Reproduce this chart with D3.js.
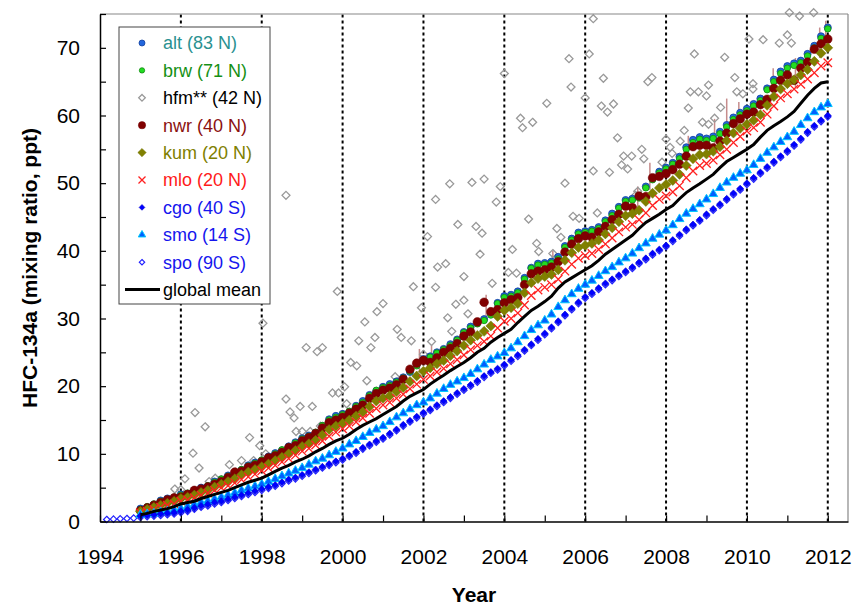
<!DOCTYPE html>
<html>
<head>
<meta charset="utf-8">
<script src="https://cdn.jsdelivr.net/npm/d3@7"></script>
<style>
  body { margin: 0; background: #fff; }
  text { font-family: Arial, "Liberation Sans", sans-serif; }
</style>
</head>
<body>
<svg id="chart" width="857" height="606"></svg>
<script>
// bimonthly values, first value at series start year, step 1/6 yr
const step = 1 / 6;

const altVals = [
  1.9, 2.1, 2.5, 3.1, 3.4, 3.5,  4.0, 4.1, 4.6, 5.0, 5.2, 5.9,  6.2, 6.8, 7.2, 7.6, 8.3, 8.7,
  9.0, 9.6, 10.1, 10.5, 11.1, 11.7,  12.3, 12.7, 13.1, 14.1, 15.1, 15.6,  15.9, 16.2, 17.1, 17.8, 18.7, 19.3,
  19.9, 20.3, 20.7, 21.3, 22.1, 23.2,  24.0, 24.4, 25.0, 25.5, 26.2, 26.9,  28.0, 28.8, 29.4, 29.9, 30.7, 32.3,
  33.3, 33.5, 34.0, 36.0, 37.5, 38.1,  38.2, 38.4, 39.1, 40.7, 41.8, 42.7,  42.9, 43.1, 43.5, 44.5, 45.5, 46.5,
  47.5, 47.7, 48.1, 49.5, 50.7, 51.7,  52.3, 53.0, 53.9, 55.3, 56.4, 56.8,  56.6, 56.9, 57.6, 58.6, 59.7, 60.4,
  61.0, 61.7, 62.5, 64.0, 65.3, 66.5,  67.3, 67.7, 68.1, 69.1, 70.3, 71.7,  73.0
];
const brwVals = [
  1.8, 2.2, 2.6, 3.0, 3.3, 3.6,  3.9, 4.2, 4.5, 4.9, 5.3, 5.8,  6.3, 6.7, 7.1, 7.7, 8.2, 8.6,
  9.1, 9.5, 10.0, 10.6, 11.0, 11.6,  12.2, 12.6, 13.2, 14.2, 15.0, 15.4,  15.8, 16.3, 17.0, 17.6, 18.6, 19.4,
  19.8, 20.1, 20.6, 21.2, 22.2, 23.0,  23.9, 24.3, 24.9, 25.4, 26.0, 26.8,  27.9, 28.6, 29.2, 29.7, 30.5, 32.2,
  33.1, 33.3, 33.8, 35.8, 37.4, 37.9,  38.0, 38.2, 38.8, 40.5, 41.6, 42.5,  42.7, 42.9, 43.3, 44.3, 45.2, 46.3,
  47.3, 47.5, 47.8, 49.3, 50.5, 51.5,  52.1, 52.8, 53.6, 55.0, 56.0, 56.5,  56.3, 56.6, 57.3, 58.3, 59.4, 60.1,
  60.7, 61.4, 62.2, 63.8, 65.0, 66.2,  67.0, 67.4, 67.8, 68.8, 70.0, 71.4,  72.8
];
const nwrVals = [
  1.6, 2.0, 2.4, 2.8, 3.2, 3.5,  3.6, 4.0, 4.6, 4.8, 5.1, 5.5,  5.9, 6.5, 7.3, 7.4, 8.0, 8.3,
  8.8, 9.4, 9.7, 10.2, 10.9, 11.2,  11.9, 12.4, 13.0, 13.8, 14.6, 15.0,  15.4, 16.0, 16.6, 17.2, 18.2, 18.9,
  19.4, 19.7, 20.2, 21.0, 22.5, 23.4,  23.8, 23.5, 24.2, 25.0, 25.6, 26.3,  27.4, 28.0, 29.5, 32.4, 31.0, 31.3,
  32.3, 32.8, 33.1, 35.0, 36.6, 37.0,  37.2, 37.6, 38.4, 39.8, 41.0, 41.8,  42.2, 42.0, 42.8, 43.6, 44.6, 45.4,
  46.6, 46.4, 48.1, 48.0, 50.8, 51.0,  51.4, 52.0, 52.8, 54.0, 55.4, 55.6,  55.6, 55.2, 56.2, 57.4, 58.8, 59.5,
  60.2, 60.5, 61.6, 62.4, 64.0, 65.2,  66.0, 65.2, 67.0, 67.9, 69.8, 70.6,  71.3
];
const kumVals = [
  1.5, 1.8, 2.1, 2.4, 2.7, 3.0,  3.4, 3.6, 3.9, 4.3, 4.6, 5.1,  5.5, 5.9, 6.3, 6.9, 7.3, 7.7,
  8.1, 8.5, 9.0, 9.5, 10.0, 10.5,  11.1, 11.5, 12.0, 12.8, 13.6, 14.1,  14.5, 15.0, 15.6, 16.2, 17.0, 17.8,
  18.2, 18.6, 19.2, 19.8, 20.7, 21.5,  22.2, 22.7, 23.3, 23.8, 24.5, 25.2,  26.0, 26.8, 27.5, 28.1, 28.9, 30.3,
  31.2, 31.6, 32.2, 33.8, 35.3, 35.9,  36.2, 36.5, 37.2, 38.6, 39.7, 40.5,  40.8, 41.1, 41.6, 42.5, 43.4, 44.3,
  45.2, 45.5, 46.0, 47.3, 48.5, 49.3,  49.8, 50.4, 51.3, 52.6, 53.6, 54.2,  54.3, 54.7, 55.4, 56.3, 57.4, 58.1,
  58.7, 59.3, 60.1, 61.5, 62.8, 63.9,  64.7, 65.3, 66.0, 66.8, 68.0, 69.2,  70.0
];
const mloVals = [
  1.3, 1.5, 1.8, 2.1, 2.4, 2.6,  3.0, 3.2, 3.5, 3.9, 4.2, 4.6,  5.0, 5.3, 5.7, 6.2, 6.6, 7.0,
  7.5, 7.9, 8.3, 8.8, 9.3, 9.8,  10.4, 10.8, 11.3, 11.9, 12.6, 13.2,  13.7, 14.1, 14.7, 15.3, 16.0, 16.7,
  17.2, 17.6, 18.2, 18.8, 19.6, 20.3,  21.0, 21.5, 22.1, 22.6, 23.3, 23.9,  24.6, 25.4, 26.0, 26.6, 27.4, 28.6,
  29.6, 30.0, 30.8, 32.0, 33.4, 34.2,  34.6, 35.0, 35.8, 37.0, 38.0, 38.9,  39.3, 39.6, 40.2, 41.0, 41.9, 42.8,
  43.5, 43.9, 44.6, 45.6, 46.7, 47.6,  48.1, 48.7, 49.6, 50.8, 51.8, 52.6,  52.9, 53.4, 54.2, 55.0, 56.0, 56.9,
  57.7, 58.2, 59.0, 60.2, 61.4, 62.6,  63.2, 63.9, 64.6, 65.4, 66.3, 67.3,  67.8
];
const cgoVals = [
  0.8, 0.9, 1.0, 1.1, 1.2, 1.3,  1.5, 1.7, 2.0, 2.3, 2.5, 2.8,  3.0, 3.3, 3.6, 3.9, 4.2, 4.5,
  4.8, 5.1, 5.4, 5.8, 6.2, 6.5,  6.9, 7.3, 7.7, 8.1, 8.5, 8.9,  9.3, 9.8, 10.3, 10.9, 11.4, 11.9,
  12.4, 13.0, 13.6, 14.3, 14.9, 15.5,  16.1, 16.6, 17.2, 17.8, 18.4, 19.0,  19.6, 20.2, 20.8, 21.5, 22.1, 22.6,
  23.2, 23.9, 24.6, 25.4, 26.2, 27.0,  27.8, 28.7, 29.6, 30.6, 31.5, 32.4,  33.2, 33.8, 34.5, 35.2, 35.8, 36.4,
  37.0, 37.6, 38.3, 38.9, 39.6, 40.2,  40.8, 41.6, 42.4, 43.2, 43.9, 44.6,  45.4, 46.2, 46.9, 47.7, 48.5, 49.2,
  50.0, 50.8, 51.6, 52.4, 53.2, 54.0,  54.8, 55.7, 56.6, 57.6, 58.5, 59.3,  60.0
];
const smoVals = [
  1.0, 1.1, 1.2, 1.4, 1.5, 1.7,  1.9, 2.2, 2.5, 2.8, 3.0, 3.3,  3.6, 3.9, 4.2, 4.6, 4.9, 5.2,
  5.5, 5.9, 6.3, 6.7, 7.1, 7.5,  7.9, 8.4, 8.9, 9.3, 9.8, 10.3,  10.8, 11.4, 11.9, 12.5, 13.1, 13.6,
  14.1, 14.7, 15.4, 16.0, 16.6, 17.2,  17.6, 18.2, 18.9, 19.6, 20.2, 20.7,  21.2, 21.8, 22.5, 23.2, 23.9, 24.4,
  24.9, 25.6, 26.5, 27.4, 28.3, 29.0,  29.7, 30.6, 31.7, 32.7, 33.6, 34.4,  35.0, 35.6, 36.3, 37.0, 37.6, 38.3,
  38.9, 39.6, 40.4, 41.1, 41.8, 42.4,  43.0, 43.8, 44.7, 45.5, 46.2, 46.9,  47.6, 48.4, 49.3, 50.1, 50.8, 51.4,
  51.9, 52.7, 53.6, 54.5, 55.3, 56.1,  56.8, 57.6, 58.6, 59.6, 60.5, 61.2,  61.7
];
// spo starts early in 1994
const spoVals = [
  0.3, 0.35, 0.4, 0.45, 0.5,
  0.6, 0.7, 0.8, 0.9, 1.0, 1.1,  1.3, 1.5, 1.8, 2.1, 2.3, 2.6,  2.8, 3.1, 3.4, 3.7, 4.0, 4.3,
  4.6, 4.9, 5.2, 5.6, 6.0, 6.3,  6.7, 7.1, 7.5, 7.9, 8.3, 8.7,  9.1, 9.6, 10.1, 10.7, 11.2, 11.7,
  12.2, 12.8, 13.4, 14.1, 14.7, 15.3,  15.9, 16.4, 17.0, 17.6, 18.2, 18.8,  19.4, 20.0, 20.6, 21.3, 21.9, 22.4,
  23.0, 23.7, 24.4, 25.2, 26.0, 26.8,  27.6, 28.5, 29.4, 30.4, 31.3, 32.2,  33.0, 33.6, 34.3, 35.0, 35.6, 36.2,
  36.8, 37.4, 38.1, 38.7, 39.4, 40.0,  40.6, 41.4, 42.2, 43.0, 43.7, 44.4,  45.2, 46.0, 46.7, 47.5, 48.3, 49.0,
  49.8, 50.6, 51.4, 52.2, 53.0, 53.8,  54.6, 55.5, 56.4, 57.4, 58.3, 59.1,  59.8
];
const globalVals = [
  1.0, 1.2, 1.5, 1.7, 1.9, 2.2,  2.6, 2.8, 3.0, 3.4, 3.7, 4.0,  4.3, 4.6, 5.0, 5.4, 5.8, 6.1,
  6.4, 6.9, 7.4, 7.9, 8.3, 8.8,  9.2, 9.7, 10.3, 10.8, 11.4, 11.9,  12.3, 12.9, 13.6, 14.2, 14.7, 15.2,
  15.8, 16.4, 17.0, 17.8, 18.5, 19.0,  19.5, 20.3, 21.0, 21.6, 22.3, 22.9,  23.5, 24.2, 25.0, 25.6, 26.5, 27.2,
  27.8, 28.4, 29.4, 30.3, 31.2, 31.8,  32.5, 33.3, 34.5, 35.4, 36.0, 36.6,  37.2, 37.8, 38.6, 39.5, 40.2, 40.9,
  41.6, 42.3, 43.3, 44.2, 44.8, 45.4,  46.1, 46.7, 47.7, 48.6, 49.3, 49.9,  50.6, 51.3, 52.3, 53.2, 53.8, 54.4,
  55.0, 55.7, 56.8, 57.8, 58.5, 59.1,  59.8, 60.6, 61.8, 63.0, 64.0, 64.8,  65.0
];

// hfm** flask samples, scattered
const hfmYear = [
  1995.85, 1996.0, 1996.1, 1996.3, 1996.35, 1996.45, 1996.6, 1996.7, 1996.85, 1997.2, 1997.35, 1997.5,
  1997.7, 1997.8, 1997.95, 1998.03, 1998.1, 1998.6, 1998.6, 1998.7, 1998.8, 1998.85, 1998.95, 1999.0,
  1999.1, 1999.2, 1999.25, 1999.37, 1999.45, 1999.5, 1999.75, 1999.87, 1999.9, 2000.05, 2000.1, 2000.2,
  2000.35, 2000.4, 2000.55, 2000.6, 2000.7, 2000.8, 2000.85, 2001.0, 2001.3, 2001.35, 2001.45, 2001.7,
  2001.75, 2001.95, 2002.0, 2002.1, 2002.2, 2002.3, 2002.3, 2002.35, 2002.55, 2002.6, 2002.65, 2002.7,
  2002.8, 2002.85, 2003.0, 2003.0, 2003.1, 2003.2, 2003.3, 2003.4, 2003.45, 2003.5, 2003.7, 2003.8,
  2003.9, 2004.0, 2004.1, 2004.2, 2004.3, 2004.4, 2004.45, 2004.6, 2004.7, 2004.8, 2004.85, 2005.05,
  2005.2, 2005.3, 2005.4, 2005.5, 2005.6, 2005.65, 2005.7, 2005.85, 2006.0, 2006.1, 2006.2, 2006.2,
  2006.3, 2006.4, 2006.45, 2006.55, 2006.6, 2006.7, 2006.8, 2006.9, 2006.95, 2007.05, 2007.15, 2007.25,
  2007.3, 2007.4, 2007.45, 2007.55, 2007.65, 2007.9, 2008.0, 2008.1, 2008.15, 2008.35, 2008.45, 2008.55,
  2008.6, 2008.7, 2008.8, 2008.9, 2009.0, 2009.05, 2009.05, 2009.2, 2009.35, 2009.45, 2009.7, 2009.75,
  2009.9, 2010.05, 2010.15, 2010.15, 2010.4, 2010.8, 2011.0, 2011.05, 2011.1, 2011.3, 2011.65
];
const hfmValue = [
  4.8, 4.7, 6.3, 10.1, 16.1, 7.9, 14.0, 5.9, 6.4, 8.4, 7.3, 9.0,
  12.4, 9.0, 11.2, 29.3, 10.0, 48.2, 18.1, 16.2, 15.3, 13.3, 17.0, 13.3,
  25.7, 13.3, 17.0, 25.1, 14.1, 25.7, 19.0, 34.0, 19.0, 19.9, 17.4, 23.5,
  23.0, 26.7, 29.5, 20.8, 25.7, 27.2, 31.0, 32.2, 21.4, 28.4, 27.2, 26.7,
  34.7, 31.6, 24.7, 42.1, 26.6, 34.6, 47.6, 37.6, 38.1, 30.1, 49.9, 28.1,
  32.1, 43.9, 32.7, 36.2, 30.7, 50.1, 43.6, 39.5, 42.6, 50.6, 35.2, 47.2,
  49.5, 66.2, 36.8, 40.2, 36.7, 59.6, 58.2, 44.7, 59.0, 41.1, 39.9, 61.8,
  39.6, 43.3, 42.0, 50.0, 68.4, 64.2, 45.1, 44.8, 62.6, 69.1, 74.3, 51.8,
  45.6, 61.4, 65.5, 60.5, 51.6, 61.7, 56.7, 52.7, 54.0, 52.1, 54.0, 48.2,
  48.8, 55.0, 53.6, 65.0, 65.6, 53.1, 56.5, 55.3, 54.4, 56.2, 57.8, 61.1,
  63.5, 69.1, 63.5, 59.0, 62.9, 58.7, 64.5, 59.6, 61.2, 68.6, 65.6, 63.5,
  63.2, 71.3, 64.7, 63.9, 71.2, 70.7, 71.9, 75.2, 70.7, 74.7, 75.2
];

// nwr spread bars
const nwrBarYear = [2001.9, 2002.2, 2003.55, 2005.2, 2007.3, 2007.6, 2008.55, 2009.2, 2009.5, 2009.8, 2010.65, 2011.2, 2011.8, 2011.95];
const nwrBarLo   = [22.0, 23.8, 29.5, 36.5, 46.5, 49.0, 54.0, 55.5, 57.5, 58.5, 64.0, 64.0, 68.5, 70.0];
const nwrBarHi   = [25.5, 26.0, 33.5, 40.0, 49.5, 53.0, 57.0, 59.5, 62.5, 62.0, 67.0, 68.5, 73.0, 74.0];

const xTicks = d3.range(1994, 2013, 1);
const xLabels = d3.range(1994, 2013, 2);
const gridYears = d3.range(1996, 2013, 2);
const yTicks = d3.range(0, 76, 5);
const yLabels = d3.range(0, 71, 10);

const legendNames = ["alt (83 N)", "brw (71 N)", "hfm** (42 N)", "nwr (40 N)", "kum (20 N)", "mlo (20 N)",
                     "cgo (40 S)", "smo (14 S)", "spo (90 S)", "global mean"];

const svg = d3.select("#chart");
const plotLeft = 100, plotRight = 848, plotTop = 14, plotBottom = 521.5;
const x = d3.scaleLinear().domain([1994, 2012.5]).range([plotLeft, plotRight]);
const y = d3.scaleLinear().domain([0, 75]).range([plotBottom, plotTop]);

const toPoints = (vals, start) => vals.map((v, i) => ({ t: start + i * step, v }));

// station styles
const stations = [
  { name: "hfm", pts: hfmYear.map((t, i) => ({ t, v: hfmValue[i] })), sym: d3.symbolDiamond2, size: 40,
    fill: "none", stroke: "#999", sw: 1.3, text: "#000" },
  { name: "spo", pts: toPoints(spoVals, 1994 + step), sym: d3.symbolDiamond2, size: 26,
    fill: "none", stroke: "#2222ff", sw: 1.2, text: "#1515ee" },
  { name: "alt", pts: toPoints(altVals, 1995.0), sym: d3.symbolCircle, size: 40,
    fill: "#2266dd", stroke: "#1040a0", sw: 0.8, text: "#2a9191" },
  { name: "brw", pts: toPoints(brwVals, 1995.0), sym: d3.symbolCircle, size: 32,
    fill: "#22dd22", stroke: "#118811", sw: 0.8, text: "#159015" },
  { name: "nwr", pts: toPoints(nwrVals, 1995.0), sym: d3.symbolCircle, size: 60,
    fill: "#800000", stroke: "#700000", sw: 0.5, text: "#8b1010" },
  { name: "kum", pts: toPoints(kumVals, 1995.0), sym: d3.symbolDiamond2, size: 64,
    fill: "#808000", stroke: "#707000", sw: 0.5, text: "#808000" },
  { name: "mlo", pts: toPoints(mloVals, 1995.0), sym: d3.symbolX, size: 48,
    fill: "none", stroke: "#ff2020", sw: 1.3, text: "#ff1a1a" },
  { name: "smo", pts: toPoints(smoVals, 1995.0), sym: d3.symbolTriangle, size: 34,
    fill: "#0060ff", stroke: "#00c8ff", sw: 1, text: "#1515ee" },
  { name: "cgo", pts: toPoints(cgoVals, 1995.0), sym: d3.symbolDiamond2, size: 30,
    fill: "#0000ff", stroke: "#0000cc", sw: 0.6, text: "#1515ee" }
];

// dotted year lines
svg.append("g").selectAll("line")
  .data(gridYears)
  .join("line")
  .attr("x1", d => x(d)).attr("x2", d => x(d))
  .attr("y1", plotBottom).attr("y2", plotTop)
  .attr("stroke", "#000").attr("stroke-width", 2)
  .attr("stroke-dasharray", "3,3");

// nwr spread bars
svg.append("g").selectAll("line")
  .data(nwrBarYear)
  .join("line")
  .attr("x1", d => x(d)).attr("x2", d => x(d))
  .attr("y1", (d, i) => y(nwrBarLo[i])).attr("y2", (d, i) => y(nwrBarHi[i]))
  .attr("stroke", "#b87070").attr("stroke-width", 1.5).attr("opacity", 0.8);

stations.forEach(s => {
  svg.append("g").selectAll("path")
    .data(s.pts)
    .join("path")
    .attr("transform", d => `translate(${x(d.t)},${y(d.v)})`)
    .attr("d", d3.symbol(s.sym, s.size))
    .attr("fill", s.fill)
    .attr("stroke", s.stroke)
    .attr("stroke-width", s.sw);
});

// global mean line
svg.append("path")
  .datum(toPoints(globalVals, 1995.0))
  .attr("d", d3.line().x(d => x(d.t)).y(d => y(d.v)))
  .attr("fill", "none")
  .attr("stroke", "#000")
  .attr("stroke-width", 3);

// frame
svg.append("line").attr("x1", plotLeft).attr("x2", plotRight).attr("y1", plotTop).attr("y2", plotTop)
  .attr("stroke", "#888").attr("stroke-width", 1.2);
svg.append("line").attr("x1", plotRight).attr("x2", plotRight).attr("y1", plotTop).attr("y2", plotBottom)
  .attr("stroke", "#888").attr("stroke-width", 1.2);

// axes
const xAxis = svg.append("g")
  .attr("transform", `translate(0,${plotBottom})`)
  .call(d3.axisBottom(x).tickValues(xTicks).tickSizeInner(-6).tickSizeOuter(0).tickPadding(28)
    .tickFormat(d => xLabels.includes(d) ? d : ""));
const yAxis = svg.append("g")
  .attr("transform", `translate(${plotLeft},0)`)
  .call(d3.axisLeft(y).tickValues(yTicks).tickSizeInner(-6).tickSizeOuter(0).tickPadding(20)
    .tickFormat(d => yLabels.includes(d) ? d : ""));
[xAxis, yAxis].forEach(a => {
  a.select(".domain").attr("stroke", "#000").attr("stroke-width", 1.5);
  a.selectAll(".tick line").attr("stroke", "#000").attr("stroke-width", 1.2);
  a.selectAll(".tick text").attr("font-size", 21).attr("fill", "#000")
    .attr("font-family", "Arial, 'Liberation Sans', sans-serif");
});

svg.append("text")
  .attr("x", 474).attr("y", 602)
  .attr("text-anchor", "middle")
  .attr("font-size", 21).attr("font-weight", "bold")
  .text("Year");
svg.append("text")
  .attr("transform", "translate(37,268) rotate(-90)")
  .attr("text-anchor", "middle")
  .attr("font-size", 21).attr("font-weight", "bold")
  .text("HFC-134a (mixing ratio, ppt)");

// legend
const legendOrder = ["alt", "brw", "hfm", "nwr", "kum", "mlo", "cgo", "smo", "spo"];
const lg = svg.append("g");
lg.append("rect")
  .attr("x", 119).attr("y", 27).attr("width", 151).attr("height", 277)
  .attr("fill", "#fff").attr("stroke", "#444").attr("stroke-width", 1);
legendOrder.forEach((key, i) => {
  const s = stations.find(d => d.name === key);
  const cy = 43 + i * 27.4;
  lg.append("path")
    .attr("transform", `translate(142,${cy})`)
    .attr("d", d3.symbol(s.sym, s.size * 0.7))
    .attr("fill", s.fill).attr("stroke", s.stroke).attr("stroke-width", s.sw);
  lg.append("text")
    .attr("x", 163).attr("y", cy).attr("dy", "0.35em")
    .attr("font-size", 18).attr("fill", s.text)
    .text(legendNames[i]);
});
const gy = 43 + 9 * 27.4;
lg.append("line").attr("x1", 125).attr("x2", 160).attr("y1", gy).attr("y2", gy)
  .attr("stroke", "#000").attr("stroke-width", 3);
lg.append("text")
  .attr("x", 163).attr("y", gy).attr("dy", "0.35em")
  .attr("font-size", 18).attr("fill", "#000")
  .text(legendNames[9]);
</script>
</body>
</html>
